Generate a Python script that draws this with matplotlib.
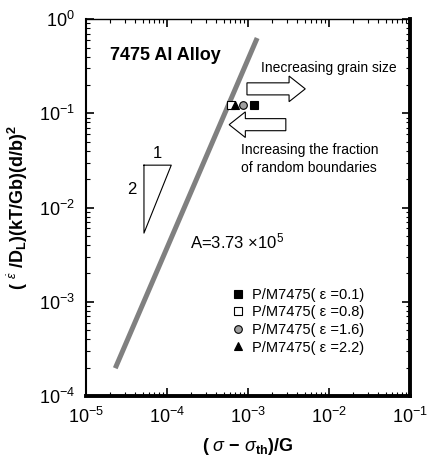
import matplotlib
matplotlib.use("Agg")
import matplotlib.pyplot as plt
import numpy as np
from matplotlib.ticker import LogLocator, NullFormatter
from matplotlib.patches import FancyArrow

plt.rcParams['font.family'] = ['Liberation Sans', 'DejaVu Sans']
plt.rcParams['mathtext.fontset'] = 'custom'
plt.rcParams['mathtext.rm'] = 'Liberation Sans'
plt.rcParams['mathtext.bf'] = 'Liberation Sans:bold'
plt.rcParams['mathtext.it'] = 'Liberation Sans:italic'
plt.rcParams['mathtext.sf'] = 'Liberation Sans'

# Data
A_const = 3.73e5
line_x = [2.3e-5, 1.3e-3]
series_labels = ["0.1", "0.8", "1.6", "2.2"]
series_x = [1.2e-3, 6.25e-4, 8.8e-4, 7.0e-4]
series_y = [0.122, 0.122, 0.122, 0.122]
series_marker = ['s', 's', 'o', '^']
series_face = ['black', 'white', '#a0a0a0', 'black']
tri_x = [5.2e-5, 1.13e-4]
tri_y = [5.36e-3, 0.0282]

fig = plt.figure(figsize=(4.31, 4.67), dpi=100)
ax = fig.add_axes([0.1995, 0.152, 0.7515, 0.807])
ax.set_xscale('log')
ax.set_yscale('log')
ax.set_xlim(1e-5, 1e-1)
ax.set_ylim(1e-4, 1e0)

xs = np.array(line_x)
ax.plot(xs, A_const * xs**2, color='#808080', lw=3.6, solid_capstyle='butt', zorder=2)

handles = []
for lab, x, y, m, fc in zip(series_labels, series_x, series_y, series_marker, series_face):
    h, = ax.plot([x], [y], linestyle='none', marker=m, ms=5.5, mfc=fc, mec='black', mew=0.8,
                 label="P/M7475( \u03b5 =" + lab + ")", zorder=4)
    handles.append(h)

# slope triangle
ax.plot([tri_x[0], tri_x[1], tri_x[0], tri_x[0]], [tri_y[1], tri_y[1], tri_y[0], tri_y[1]],
        color='black', lw=0.8)
ax.text(np.sqrt(tri_x[0]*tri_x[1]), tri_y[1]*1.12, "1", ha='center', va='bottom', fontsize=12)
ax.text(tri_x[0]*0.82, np.sqrt(tri_y[0]*tri_y[1])*1.25, "2", ha='right', va='center', fontsize=12)

ax.text(0.075, 0.903, "7475 Al Alloy", transform=ax.transAxes, fontsize=13, fontweight='bold',
        ha='left', va='center')
ax.text(0.54, 0.87, "Inecreasing grain size", transform=ax.transAxes, fontsize=10,
        ha='left', va='center')
ax.text(0.478, 0.652, "Increasing the fraction", transform=ax.transAxes, fontsize=10,
        ha='left', va='center')
ax.text(0.478, 0.605, "of random boundaries", transform=ax.transAxes, fontsize=10,
        ha='left', va='center')
ax.text(0.32, 0.41, r"A=3.73 $\times$10$^{5}$", transform=ax.transAxes, fontsize=12,
        ha='left', va='center')

# arrows in axes coords
ax.add_patch(FancyArrow(0.497, 0.815, 0.13, 0.0, width=0.032, head_width=0.068, head_length=0.05,
                        length_includes_head=False, transform=ax.transAxes, fc='white', ec='black', lw=0.8))
ax.add_patch(FancyArrow(0.617, 0.72, -0.125, 0.0, width=0.032, head_width=0.068, head_length=0.05,
                        length_includes_head=False, transform=ax.transAxes, fc='white', ec='black', lw=0.8))

leg = ax.legend(handles=handles, loc='upper left', bbox_to_anchor=(0.43, 0.307), frameon=False,
                fontsize=10.5, handlelength=0.7, handletextpad=0.6, labelspacing=0.25, borderpad=0)

ax.xaxis.set_major_locator(LogLocator(base=10, numticks=10))
ax.yaxis.set_major_locator(LogLocator(base=10, numticks=10))
ax.xaxis.set_minor_locator(LogLocator(base=10, subs=np.arange(2, 10), numticks=10))
ax.yaxis.set_minor_locator(LogLocator(base=10, subs=np.arange(2, 10), numticks=10))
ax.xaxis.set_minor_formatter(NullFormatter())
ax.yaxis.set_minor_formatter(NullFormatter())
ax.tick_params(which='major', direction='in', length=6, width=1.2, top=True, right=True,
               labelsize=13, pad=8)
ax.tick_params(which='minor', direction='in', length=3, width=0.8, top=True, right=True)

for side, lw in [('left', 1.5), ('top', 1.0), ('right', 2.8), ('bottom', 2.8)]:
    ax.spines[side].set_linewidth(lw)

ax.set_xlabel(r"$\mathbf{(}$ $\sigma$ $\mathbf{-}$ $\sigma_{\mathbf{th}}$$\mathbf{)/G}$", fontsize=13,
              labelpad=6)
ax.set_ylabel(r"$\mathbf{(}$ $^{\dot{\epsilon}}$ $\mathbf{/D_L)(kT/Gb)(d/b)^2}$", fontsize=13, labelpad=6)

fig.savefig("out.png", dpi=100)
